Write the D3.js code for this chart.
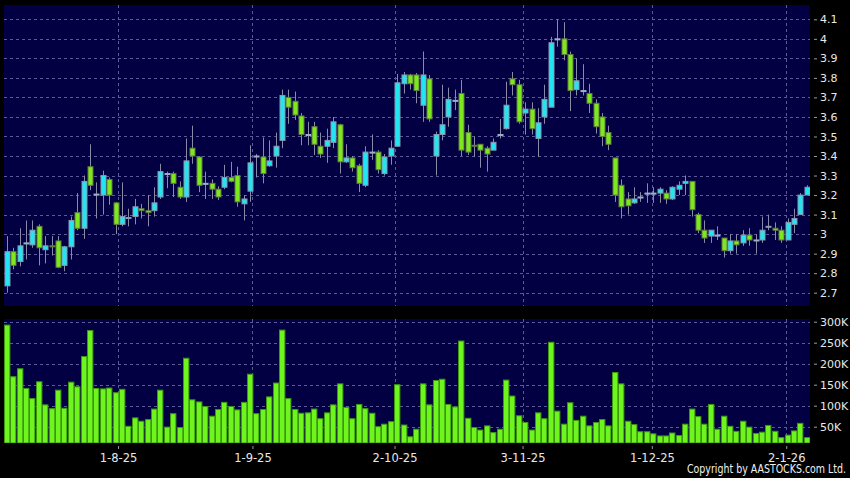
<!DOCTYPE html>
<html>
<head>
<meta charset="utf-8">
<script src="https://cdn.jsdelivr.net/npm/d3@7/dist/d3.min.js"></script>
<style>
  body { margin: 0; background: #000; }
  #chart { width: 850px; height: 478px; }
</style>
</head>
<body>
<div id="chart"></div>
<script>
// daily candles, Jul-2025 .. Jan-2026 (one entry per trading day)
let opens = [2.735,2.91,2.86,2.955,2.945,3.04,2.92,2.94,2.965,2.84,
  2.935,3.11,3.03,3.345,3.205,3.20,3.28,3.16,3.05,3.08,
  3.09,3.13,3.12,3.12,3.19,3.31,3.31,3.24,3.19,3.44,
  3.395,3.26,3.26,3.23,3.24,3.29,3.30,3.155,3.22,3.40,
  3.395,3.35,3.40,3.48,3.70,3.68,3.605,3.51,3.55,3.45,
  3.45,3.47,3.56,3.37,3.39,3.35,3.25,3.42,3.42,3.31,
  3.40,3.45,3.77,3.815,3.815,3.66,3.795,3.40,3.51,3.60,
  3.685,3.72,3.52,3.455,3.46,3.44,3.43,3.51,3.54,3.795,
  3.765,3.62,3.64,3.49,3.60,3.65,4.00,4.00,3.92,3.74,
  3.735,3.72,3.67,3.60,3.52,3.39,3.25,3.18,3.16,3.19,
  3.21,3.21,3.21,3.21,3.18,3.23,3.26,3.27,3.10,3.02,
  2.99,2.995,2.98,2.915,2.965,2.955,2.995,2.97,2.97,3.035,
  3.03,3.02,2.97,3.05,3.10,3.20]
let highs = [2.99,2.93,3.03,3.07,3.07,3.05,2.99,2.99,2.99,2.94,
  3.09,3.21,3.30,3.46,3.265,3.325,3.29,3.165,3.265,3.13,
  3.18,3.155,3.20,3.24,3.36,3.32,3.32,3.27,3.49,3.555,
  3.40,3.32,3.28,3.245,3.355,3.37,3.345,3.20,3.455,3.41,
  3.495,3.48,3.52,3.74,3.74,3.73,3.62,3.575,3.575,3.52,
  3.54,3.60,3.565,3.46,3.40,3.36,3.45,3.51,3.43,3.41,
  3.48,3.82,3.83,3.82,3.825,3.935,3.815,3.525,3.765,3.75,
  3.74,3.79,3.56,3.50,3.46,3.45,3.49,3.59,3.78,3.83,
  3.79,3.675,3.675,3.645,3.765,4.01,4.10,4.085,3.935,3.90,
  3.87,3.77,3.69,3.62,3.555,3.39,3.28,3.215,3.24,3.215,
  3.26,3.24,3.24,3.225,3.245,3.27,3.30,3.27,3.11,3.07,
  3.02,3.04,2.98,3.00,3.00,3.02,3.03,3.00,3.09,3.10,
  3.06,3.04,3.08,3.13,3.21,3.25]
let lows = [2.70,2.82,2.835,2.87,2.93,2.84,2.85,2.89,2.825,2.81,
  2.87,3.02,2.975,3.225,3.08,3.10,3.15,3.00,3.04,3.04,
  3.05,3.08,3.04,3.09,3.18,3.235,3.19,3.18,3.165,3.36,
  3.215,3.18,3.18,3.175,3.23,3.265,3.14,3.07,3.165,3.29,
  3.26,3.345,3.34,3.44,3.565,3.585,3.455,3.455,3.405,3.39,
  3.365,3.44,3.31,3.365,3.32,3.215,3.24,3.38,3.31,3.30,
  3.355,3.45,3.72,3.74,3.67,3.575,3.575,3.30,3.48,3.55,
  3.635,3.40,3.405,3.395,3.34,3.32,3.43,3.49,3.535,3.71,
  3.565,3.51,3.51,3.395,3.565,3.65,3.96,3.89,3.63,3.71,
  3.71,3.62,3.515,3.45,3.43,3.165,3.08,3.10,3.155,3.165,
  3.16,3.16,3.16,3.155,3.175,3.20,3.20,3.09,3.005,2.955,
  2.955,2.97,2.88,2.90,2.90,2.94,2.94,2.90,2.955,3.02,
  2.97,2.955,2.97,3.005,3.10,3.20]
let closes = [2.91,2.84,2.94,2.955,3.02,2.93,2.94,2.935,2.83,2.935,
  3.07,3.03,3.27,3.25,3.205,3.30,3.20,3.05,3.09,3.085,
  3.14,3.12,3.11,3.16,3.32,3.31,3.26,3.19,3.375,3.40,
  3.25,3.26,3.23,3.19,3.29,3.27,3.165,3.18,3.365,3.40,
  3.31,3.375,3.45,3.71,3.65,3.61,3.51,3.51,3.46,3.41,
  3.48,3.575,3.37,3.39,3.34,3.26,3.42,3.42,3.33,3.395,
  3.44,3.775,3.815,3.77,3.735,3.815,3.59,3.51,3.56,3.69,
  3.685,3.43,3.42,3.45,3.43,3.41,3.47,3.51,3.66,3.765,
  3.575,3.64,3.54,3.57,3.69,3.98,4.00,3.92,3.735,3.785,
  3.735,3.67,3.55,3.50,3.46,3.20,3.14,3.145,3.18,3.19,
  3.21,3.21,3.23,3.18,3.24,3.25,3.27,3.125,3.02,2.98,
  3.02,2.995,2.915,2.965,2.945,2.995,2.97,2.97,3.02,3.04,
  3.02,2.97,3.06,3.08,3.20,3.24]
let volumes = [292,169,188,141,117,157,102,93,137,94,
  156,145,217,279,141,140,142,131,139,51,
  71,63,67,92,137,49,81,48,213,114,
  109,98,75,91,108,98,90,108,175,81,
  91,121,154,280,117,91,82,83,92,69,
  83,102,152,96,69,103,93,82,50,56,
  62,150,54,26,44,152,102,160,163,103,
  97,254,70,48,42,52,36,44,161,123,
  76,60,42,83,69,251,87,56,107,65,
  75,52,60,67,52,179,152,63,55,38,
  38,33,28,28,35,29,56,92,74,56,
  103,44,75,51,39,63,49,34,37,53,
  39,24,30,40,58,24].map(function(v){ return v * 1000 })

let dateTickIdx = [17.4, 38.4, 60.6, 80.6, 100.8, 121.8]
let dateTickLabels = ['1-8-25', '1-9-25', '2-10-25', '3-11-25', '1-12-25', '2-1-26']
let priceTicks = [2.7, 2.8, 2.9, 3.0, 3.1, 3.2, 3.3, 3.4, 3.5, 3.6, 3.7, 3.8, 3.9, 4.0, 4.1]
let volTicks = [50000, 100000, 150000, 200000, 250000, 300000]

let candles = opens.map(function(o, i){
    return {i: i, o: o, h: highs[i], l: lows[i], c: closes[i], v: volumes[i]}
})

let width = 850, height = 478

let svg = d3.select('#chart').append('svg')
    .attr('width', width)
    .attr('height', height)
    .style('display', 'block')
    .style('background', '#000')

let topP = {x: 4, y: 5, w: 806, h: 301}
let botP = {x: 4, y: 319, w: 806, h: 124}

let x = d3.scaleLinear().domain([0, 125]).range([6.7, 806.7])
let yPrice = d3.scaleLinear().domain([2.7, 4.1]).range([292.7, 19.3])
let yVol = d3.scaleLinear().domain([0, 300000]).range([447.7, 321.7])

let navy = '#020042'
let gridColor = '#5a5a98'
let upFill = '#22e4f2', downFill = '#7ee81e'
let bodyW = 5

let defs = svg.append('defs')
defs.append('clipPath').attr('id', 'clip-top')
    .append('rect').attr('x', topP.x).attr('y', topP.y).attr('width', topP.w).attr('height', topP.h)
defs.append('clipPath').attr('id', 'clip-bot')
    .append('rect').attr('x', botP.x).attr('y', botP.y).attr('width', botP.w).attr('height', botP.h)

// panels
svg.append('rect')
    .attr('x', topP.x).attr('y', topP.y)
    .attr('width', topP.w).attr('height', topP.h)
    .attr('fill', navy)

svg.append('rect')
    .attr('x', botP.x).attr('y', botP.y)
    .attr('width', botP.w).attr('height', botP.h)
    .attr('fill', navy)

// grid - price
svg.append('g').selectAll('line')
    .data(priceTicks)
    .enter().append('line')
    .attr('x1', topP.x).attr('x2', topP.x + topP.w)
    .attr('y1', function(d){ return Math.round(yPrice(d)) + 0.5 })
    .attr('y2', function(d){ return Math.round(yPrice(d)) + 0.5 })
    .attr('stroke', gridColor)
    .attr('stroke-dasharray', '3,3')

// grid - volume
svg.append('g').selectAll('line')
    .data(volTicks)
    .enter().append('line')
    .attr('x1', botP.x).attr('x2', botP.x + botP.w)
    .attr('y1', function(d){ return Math.round(yVol(d)) + 0.5 })
    .attr('y2', function(d){ return Math.round(yVol(d)) + 0.5 })
    .attr('stroke', gridColor)
    .attr('stroke-dasharray', '3,3')

// grid - dates, both panels
;[topP, botP].forEach(function(p){
    svg.append('g').selectAll('line')
        .data(dateTickIdx)
        .enter().append('line')
        .attr('x1', function(d){ return Math.round(x(d)) + 0.5 })
        .attr('x2', function(d){ return Math.round(x(d)) + 0.5 })
        .attr('y1', p.y).attr('y2', p.y + p.h)
        .attr('stroke', gridColor)
        .attr('stroke-dasharray', '3,3')
})

// candles
let cg = svg.append('g').attr('clip-path', 'url(#clip-top)')

cg.selectAll('.wick')
    .data(candles)
    .enter().append('line')
    .attr('class', 'wick')
    .attr('x1', function(d){ return Math.round(x(d.i)) + 0.5 })
    .attr('x2', function(d){ return Math.round(x(d.i)) + 0.5 })
    .attr('y1', function(d){ return yPrice(d.h) })
    .attr('y2', function(d){ return yPrice(d.l) })
    .attr('stroke', '#8a8aa6')
    .attr('stroke-width', 1)

cg.selectAll('.body')
    .data(candles)
    .enter().append('rect')
    .attr('class', 'body')
    .attr('x', function(d){ return Math.round(x(d.i)) - bodyW / 2 + 0.5 })
    .attr('y', function(d){ return yPrice(Math.max(d.o, d.c)) })
    .attr('width', bodyW)
    .attr('height', function(d){
        return Math.max(1, Math.abs(yPrice(d.o) - yPrice(d.c)))
    })
    .attr('fill', function(d){
        if (d.c > d.o) return upFill
        if (d.c < d.o) return downFill
        return '#9ab0c8'
    })
    .attr('stroke', function(d){
        if (d.c > d.o) return '#8898ac'
        if (d.c < d.o) return '#5e7c3e'
        return '#9ab0c8'
    })
    .attr('stroke-width', 1)

// volume bars
svg.append('g').attr('clip-path', 'url(#clip-bot)')
    .selectAll('rect')
    .data(candles)
    .enter().append('rect')
    .attr('x', function(d){ return Math.round(x(d.i)) - 2.5 })
    .attr('y', function(d){ return yVol(d.v) })
    .attr('width', 5.4)
    .attr('height', function(d){ return botP.y + botP.h - yVol(d.v) })
    .attr('fill', '#6ef51e')
    .attr('stroke', '#3c9612')
    .attr('stroke-width', 1)

// right axes
let priceAxis = svg.append('g')
    .attr('transform', 'translate(814,0)')
    .call(d3.axisRight(yPrice)
        .tickValues(priceTicks)
        .tickSize(3)
        .tickPadding(3)
        .tickFormat(function(d){ return String(+d.toFixed(1)) }))

let volAxis = svg.append('g')
    .attr('transform', 'translate(814,0)')
    .call(d3.axisRight(yVol)
        .tickValues(volTicks)
        .tickSize(3)
        .tickPadding(3)
        .tickFormat(function(d){ return (d / 1000) + 'K' }))

let dateAxis = svg.append('g')
    .attr('transform', 'translate(0,446)')
    .call(d3.axisBottom(x)
        .tickValues(dateTickIdx)
        .tickSize(3)
        .tickPadding(4.5)
        .tickFormat(function(d, i){ return dateTickLabels[i] }))

;[priceAxis, volAxis, dateAxis].forEach(function(a){
    a.select('.domain').remove()
    a.selectAll('line').attr('stroke', '#9a9a9a')
    a.selectAll('text')
        .attr('fill', '#e8e8e8')
        .attr('font-family', 'DejaVu Sans, sans-serif')
        .attr('font-size', 11)
})
dateAxis.selectAll('text').attr('font-size', 11.5)

svg.append('text')
    .attr('x', 846)
    .attr('y', 473)
    .attr('text-anchor', 'end')
    .attr('fill', '#f0f0f0')
    .attr('font-family', 'Liberation Sans Narrow, DejaVu Sans Condensed, sans-serif')
    .attr('font-size', 12.5)
    .attr('textLength', 159)
    .attr('lengthAdjust', 'spacingAndGlyphs')
    .text('Copyright by AASTOCKS.com Ltd.')
</script>
</body>
</html>
